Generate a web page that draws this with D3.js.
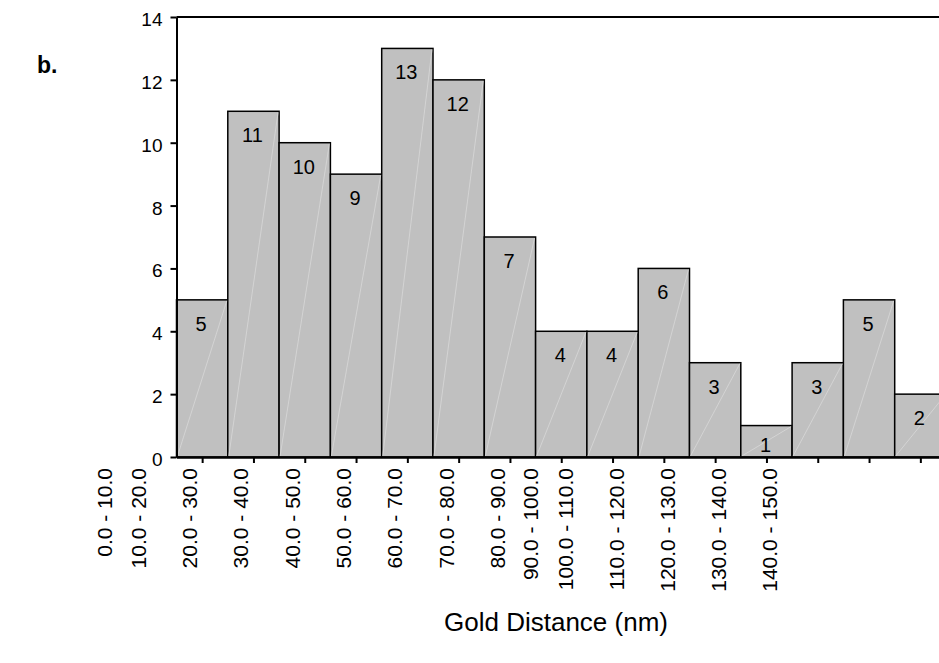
<!DOCTYPE html>
<html>
<head>
<meta charset="utf-8">
<script src="https://cdn.jsdelivr.net/npm/d3@7"></script>
<style>
  body { margin: 0; background: #fff; }
  svg text { font-family: Arial, "Liberation Sans", sans-serif; fill: #000; }
</style>
</head>
<body>
<div id="chart"></div>
<script>
// histogram bins and counts
const binLabels = ["0.0 - 10.0", "10.0 - 20.0", "20.0 - 30.0", "30.0 - 40.0", "40.0 - 50.0",
  "50.0 - 60.0", "60.0 - 70.0", "70.0 - 80.0", "80.0 - 90.0", "90.0 - 100.0",
  "100.0 - 110.0", "110.0 - 120.0", "120.0 - 130.0", "130.0 - 140.0", "140.0 - 150.0"];
const counts = [5, 11, 10, 9, 13, 12, 7, 4, 4, 6, 3, 1, 3, 5, 2];
const yTicks = [0, 2, 4, 6, 8, 10, 12, 14];
// where the category labels ended up (in bin units, the source chart has them shifted)
const labelSlot = [-1.25, -0.6, 0.4, 1.4, 2.4, 3.4, 4.4, 5.4, 6.4, 7.05, 7.73, 8.72, 9.71, 10.72, 11.71];

const width = 939, height = 663;
const margin = { left: 176.5, top: 17, bottom: 457 };
const binW = 51.3;

const svg = d3.select('#chart').append('svg')
  .attr('width', width)
  .attr('height', height);

const x = d3.scaleLinear()
  .domain([0, counts.length])
  .range([margin.left, margin.left + counts.length * binW]);

const y = d3.scaleLinear()
  .domain([0, 14])
  .range([margin.bottom, margin.top]);

// bars
const bars = svg.append('g');
bars.selectAll('rect')
  .data(counts)
  .enter()
  .append('rect')
  .attr('x', (d, i) => x(i))
  .attr('y', d => y(d))
  .attr('width', binW)
  .attr('height', d => y(0) - y(d))
  .attr('fill', '#c0c0c0')
  .attr('stroke', '#000')
  .attr('stroke-width', 1.5);

// faint diagonal streaks inside the bars
bars.selectAll('line')
  .data(counts)
  .enter()
  .append('line')
  .attr('x1', (d, i) => x(i) + 1)
  .attr('y1', y(0) - 1)
  .attr('x2', (d, i) => x(i + 1) - 1)
  .attr('y2', d => y(d) + 1)
  .attr('stroke', '#d8d8d8')
  .attr('stroke-width', 0.8);

// value labels
svg.append('g').selectAll('text')
  .data(counts)
  .enter()
  .append('text')
  .attr('x', (d, i) => x(i + 0.5) - 1)
  .attr('y', d => Math.min(y(d) + 31, y(0) - 5.5))
  .attr('text-anchor', 'middle')
  .style('font-size', '20px')
  .text(d => d);

// y axis
const yAxis = svg.append('g')
  .attr('transform', `translate(${margin.left},0)`)
  .call(d3.axisLeft(y).tickValues(yTicks).tickSize(6).tickSizeOuter(0).tickPadding(8));
yAxis.select('.domain').attr('stroke-width', 2);
yAxis.selectAll('.tick line').attr('stroke-width', 2);
yAxis.selectAll('.tick text')
  .style('font-size', '19px')
  .attr('dy', '0.45em');

// x axis (ticks only, labels drawn separately)
const xAxis = svg.append('g')
  .attr('transform', `translate(0,${margin.bottom})`)
  .call(d3.axisBottom(x)
    .tickValues(d3.range(counts.length).map(i => i + 0.5))
    .tickFormat('')
    .tickSize(6)
    .tickSizeOuter(0));
xAxis.select('.domain').attr('stroke-width', 2.5);
xAxis.selectAll('.tick line').attr('stroke-width', 2);

// top border of plot area
svg.append('line')
  .attr('x1', margin.left)
  .attr('x2', width)
  .attr('y1', y(14))
  .attr('y2', y(14))
  .attr('stroke', '#000')
  .attr('stroke-width', 2);

// category labels, rotated
svg.append('g').selectAll('text')
  .data(binLabels)
  .enter()
  .append('text')
  .attr('transform', (d, i) => `translate(${x(labelSlot[i])},468) rotate(-90)`)
  .attr('text-anchor', 'end')
  .style('font-size', '21px')
  .text(d => d);

// axis title
svg.append('text')
  .attr('x', 556)
  .attr('y', 631)
  .attr('text-anchor', 'middle')
  .style('font-size', '26px')
  .text('Gold Distance (nm)');

// panel letter
svg.append('text')
  .attr('x', 37)
  .attr('y', 73)
  .style('font-size', '23px')
  .style('font-weight', 'bold')
  .text('b.');
</script>
</body>
</html>
